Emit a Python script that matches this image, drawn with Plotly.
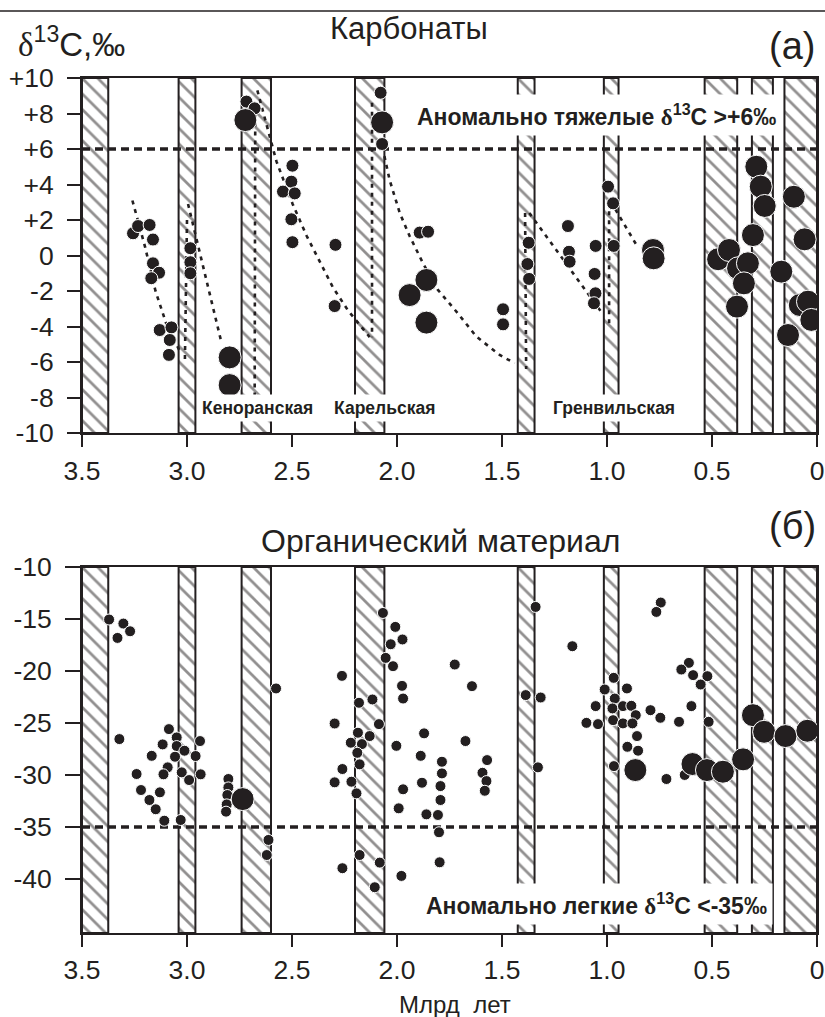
import plotly.graph_objects as go

INK = "#231f20"
FONT = "Liberation Sans"
W, H = 825, 1017

# ---------------- data ----------------
band_start = [3.5, 3.04, 2.74, 2.20, 1.425, 1.015, 0.535, 0.31, 0.155]
band_end = [3.375, 2.96, 2.60, 2.06, 1.345, 0.945, 0.38, 0.21, 0.0]

x_ticks = [3.5, 3.0, 2.5, 2.0, 1.5, 1.0, 0.5, 0.0]
x_ticktext = ["3.5", "3.0", "2.5", "2.0", "1.5", "1.0", "0.5", "0"]
carb_yticks = [10, 8, 6, 4, 2, 0, -2, -4, -6, -8, -10]
carb_yticktext = ["+10", "+8", "+6", "+4", "+2", "0", "-2", "-4", "-6", "-8", "-10"]
org_yticks = [-10, -15, -20, -25, -30, -35, -40]
org_yticktext = ["-10", "-15", "-20", "-25", "-30", "-35", "-40"]

carb_range = [-10, 10]
org_range = [-45.2, -10]
carb_threshold = 6
org_threshold = -35

carb_small_age = [3.257, 3.233, 3.178, 3.162, 3.162, 3.133, 3.17, 3.13, 3.074, 3.082, 3.086,
                  2.984, 2.984, 2.984, 2.717, 2.678,
                  2.498, 2.503, 2.543, 2.487, 2.503, 2.498, 2.293, 2.297,
                  2.078, 2.071, 1.892, 1.852, 1.495, 1.495,
                  1.373, 1.379, 1.371, 1.186, 1.181, 1.178,
                  1.054, 1.059, 1.055, 1.062, 0.995, 0.971, 0.968]
carb_small_d13c = [1.25, 1.66, 1.72, 0.9, -0.44, -0.97, -1.28, -4.2, -4.05, -4.76, -5.6,
                   0.41, -0.38, -1.0, 8.67, 8.29,
                   5.06, 4.16, 3.6, 3.5, 2.04, 0.75, 0.6, -2.85,
                   9.17, 6.28, 1.29, 1.34, -3.03, -3.88,
                   0.72, -0.48, -1.32, 1.66, 0.21, -0.35,
                   0.54, -1.04, -2.13, -2.69, 3.88, 2.94, 0.54]

carb_large_age = [2.797, 2.797, 2.722, 2.071, 1.86, 1.94, 1.86, 0.781, 0.778,
                  0.289, 0.268, 0.249, 0.11, 0.305, 0.059, 0.471, 0.419, 0.376,
                  0.329, 0.348, 0.17, 0.381, 0.082, 0.043, 0.027, 0.138]
carb_large_d13c = [-5.74, -7.3, 7.63, 7.5, -1.38, -2.23, -3.78, 0.31, -0.16,
                   5.0, 3.88, 2.79, 3.31, 1.15, 0.91, -0.21, 0.31, -0.72,
                   -0.44, -1.57, -0.91, -2.88, -2.79, -2.6, -3.63, -4.48]

org_small_age = [3.371, 3.303, 3.271, 3.331, 2.576, 3.322, 3.086, 3.049, 3.049, 3.116,
                 3.168, 3.012, 3.057, 2.959, 2.938, 3.092, 3.112, 3.025, 2.99, 2.935,
                 3.24, 3.219, 3.129, 3.179, 3.149, 3.108, 3.03,
                 2.803, 2.803, 2.808, 2.811, 2.814, 2.612, 2.62,
                 2.067, 2.008, 1.974, 2.03, 2.054, 2.019, 2.262, 1.976, 1.971,
                 1.725, 1.643, 1.34, 2.181, 2.117, 2.297, 2.086, 2.186, 2.13, 2.22,
                 2.167, 2.189, 2.178, 2.26, 2.297, 2.217, 2.193, 2.003, 1.871, 1.887,
                 1.881, 1.971, 1.992, 1.786, 1.786, 1.793, 1.793, 1.86, 1.805, 1.8,
                 1.797, 1.674, 1.571, 1.593, 1.574, 1.582, 1.387, 1.316, 1.329,
                 2.178, 2.082, 2.26, 1.979, 2.106,
                 0.744, 0.765, 1.165, 0.968, 1.011, 0.905, 0.963, 1.054, 0.974, 0.924,
                 0.884, 0.863, 0.793, 0.746, 0.598, 1.098, 1.043, 0.971, 0.924, 0.879,
                 0.657, 0.516, 0.857, 0.903, 0.852, 0.61, 0.646, 0.59, 0.522, 0.554,
                 0.967, 0.717, 0.63]
org_small_d13c = [-15.05, -15.44, -16.18, -16.82, -21.68, -26.55, -25.59, -26.39, -27.22, -27.06,
                  -28.16, -27.67, -28.25, -28.18, -26.74, -29.27, -29.94, -29.75, -30.49, -29.94,
                  -29.91, -31.45, -31.67, -32.41, -33.3, -34.4, -34.33,
                  -30.39, -31.2, -31.93, -32.83, -33.53, -36.25, -37.7,
                  -14.42, -15.76, -16.97, -17.43, -18.74, -19.54, -20.47, -21.43, -22.65,
                  -19.38, -21.46, -13.84, -23.06, -22.74, -25.05, -25.11, -25.94, -26.26, -26.9,
                  -27.03, -27.87, -28.98, -29.43, -30.71, -30.65, -31.77, -27.2, -26.0, -28.16,
                  -30.75, -31.38, -33.21, -28.73, -29.85, -31.07, -32.41, -33.79, -33.85, -35.51,
                  -38.4, -26.74, -28.57, -29.79, -30.59, -31.52, -22.32, -22.55, -29.27,
                  -37.7, -38.43, -38.97, -39.71, -40.8,
                  -13.42, -14.32, -17.62, -20.66, -21.78, -21.68, -22.65, -23.38, -23.6, -23.38,
                  -23.35, -24.25, -23.77, -24.5, -23.38, -24.99, -25.11, -24.73, -25.04, -25.04,
                  -24.89, -24.89, -26.26, -27.29, -27.67, -19.22, -19.86, -20.4, -20.5, -21.3,
                  -29.15, -30.39, -30.0]

org_large_age = [2.735, 0.865, 0.593, 0.524, 0.448, 0.352, 0.305, 0.252, 0.15, 0.046]
org_large_d13c = [-32.32, -29.53, -28.95, -29.53, -29.69, -28.5, -24.25, -25.85, -26.26, -25.75]

# dotted trend segments in the carbonate panel
trend_a_age = [3.26, 3.2, 3.15, 3.1, 3.03]
trend_a_val = [3.1, 0.5, -2.0, -3.8, -5.5]
trend_b_age = [3.0, 3.01]
trend_b_val = [2.0, -5.9]
trend_c_age = [2.995, 2.836]
trend_c_val = [2.9, -4.9]
trend_d_age = [2.675, 2.678]
trend_d_val = [8.0, -9.0]
trend_e_age = [2.665, 2.606, 2.574, 2.497, 2.43, 2.305, 2.233, 2.13]
trend_e_val = [9.3, 6.7, 5.3, 2.9, 1.1, -1.8, -3.1, -4.6]
trend_f_age = [2.119, 2.119]
trend_f_val = [8.6, -4.6]
trend_g_age = [2.06, 2.035, 1.987, 1.94, 1.876, 1.805, 1.71, 1.622, 1.511, 1.44]
trend_g_val = [5.6, 4.25, 2.4, 1.1, -0.44, -1.94, -3.26, -4.57, -5.6, -6.07]
trend_h_age = [1.39, 1.385]
trend_h_val = [2.4, -6.4]
trend_i_age = [1.37, 1.02]
trend_i_val = [2.4, -3.3]
trend_j_age = [0.99, 0.99]
trend_j_val = [2.5, -3.9]
trend_k_age = [0.96, 0.855]
trend_k_val = [2.6, 0.5]
trends = [(trend_a_age, trend_a_val), (trend_b_age, trend_b_val), (trend_c_age, trend_c_val),
          (trend_d_age, trend_d_val), (trend_e_age, trend_e_val), (trend_f_age, trend_f_val),
          (trend_g_age, trend_g_val), (trend_h_age, trend_h_val), (trend_i_age, trend_i_val),
          (trend_j_age, trend_j_val), (trend_k_age, trend_k_val)]

# ---------------- figure ----------------
fig = go.Figure()

centers = [(a + b) / 2 for a, b in zip(band_start, band_end)]
widths = [abs(a - b) for a, b in zip(band_start, band_end)]


def add_bands(xa, ya, yr):
    fig.add_trace(go.Bar(
        x=centers, width=widths, base=[yr[0]] * len(centers),
        y=[yr[1] - yr[0]] * len(centers),
        marker=dict(color="white", line=dict(color=INK, width=2),
                    pattern=dict(shape="\\", fgcolor=INK, bgcolor="white",
                                 size=11, solidity=0.25, fillmode="overlay")),
        xaxis=xa, yaxis=ya, hoverinfo="skip", showlegend=False))


add_bands("x", "y", carb_range)
add_bands("x2", "y2", org_range)

for ages, vals in trends:
    fig.add_trace(go.Scatter(x=ages, y=vals, mode="lines", xaxis="x", yaxis="y",
                             line=dict(color=INK, width=2.6, dash="4px,5px"),
                             hoverinfo="skip", showlegend=False))

fig.add_trace(go.Scatter(x=[x_ticks[0], x_ticks[-1]], y=[carb_threshold] * 2, mode="lines",
                         xaxis="x", yaxis="y", line=dict(color=INK, width=3.4, dash="8px,5px"),
                         showlegend=False))
fig.add_trace(go.Scatter(x=[x_ticks[0], x_ticks[-1]], y=[org_threshold] * 2, mode="lines",
                         xaxis="x2", yaxis="y2", line=dict(color=INK, width=3.4, dash="8px,5px"),
                         showlegend=False))


def add_pts(ages, vals, size, xa, ya):
    fig.add_trace(go.Scatter(x=ages, y=vals, mode="markers", xaxis=xa, yaxis=ya,
                             marker=dict(color=INK, size=size, line=dict(color="white", width=1)),
                             showlegend=False))


add_pts(carb_small_age, carb_small_d13c, 13, "x", "y")
add_pts(carb_large_age, carb_large_d13c, 23, "x", "y")
add_pts(org_small_age, org_small_d13c, 11, "x2", "y2")
add_pts(org_large_age, org_large_d13c, 23, "x2", "y2")

xdom = [82 / W, 817 / W]
axis_common = dict(showgrid=False, zeroline=False, showline=True, linecolor=INK, linewidth=2,
                   mirror=True, ticks="outside", tickcolor=INK, tickwidth=2, automargin=False,
                   tickfont=dict(family=FONT, size=26.5, color=INK))

fig.update_layout(
    template="none",
    width=W, height=H, margin=dict(l=0, r=0, t=0, b=0, pad=0), autosize=False,
    paper_bgcolor="white", plot_bgcolor="white", barmode="overlay", showlegend=False,
    xaxis=dict(domain=xdom, range=[3.5, 0], anchor="y", tickvals=x_ticks, ticktext=x_ticktext,
               ticklen=12, ticklabelstandoff=1, **axis_common),
    yaxis=dict(domain=[1 - 433 / H, 1 - 78 / H], range=carb_range, anchor="x",
               tickvals=carb_yticks, ticktext=carb_yticktext, ticklen=13, ticklabelstandoff=8,
               **axis_common),
    xaxis2=dict(domain=xdom, range=[3.5, 0], anchor="y2", tickvals=x_ticks, ticktext=x_ticktext,
                ticklen=12, ticklabelstandoff=0, **axis_common),
    yaxis2=dict(domain=[1 - 933 / H, 1 - 567 / H], range=org_range, anchor="x2",
                tickvals=org_yticks, ticktext=org_yticktext, ticklen=15, ticklabelstandoff=8,
                **axis_common),
)

DELTA = "<span style='font-family:Liberation Serif'>δ</span>"


def ann(text, px, py, size, bold=False, bg=None, pad=1, xanchor="center"):
    fig.add_annotation(text=("<b>%s</b>" % text) if bold else text,
                       x=px / W, y=1 - py / H, xref="paper", yref="paper",
                       xanchor=xanchor, yanchor="middle", showarrow=False,
                       font=dict(family=FONT, size=size, color=INK),
                       bgcolor=bg, borderpad=pad)


ann("Карбонаты", 409, 28, 31)
ann("(а)", 792, 46, 38)
ann(DELTA + "<sup>13</sup>C,‰", 71, 42, 33)
ann("Органический материал", 440, 541, 32)
ann("(б)", 792, 526, 38)
ann("Аномально тяжелые " + DELTA + "<sup>13</sup>C &gt;+6‰", 596, 115, 23, bold=True,
    bg="white", pad=5)
ann("Аномально легкие " + DELTA + "<sup>13</sup>C &lt;-35‰", 596, 904, 23, bold=True,
    bg="white", pad=5)
ann("Кеноранская", 257, 408, 17.5, bold=True, bg="white", pad=3)
ann("Карельская", 384, 408, 17.5, bold=True, bg="white", pad=3)
ann("Гренвильская", 614, 408, 17.5, bold=True, bg="white", pad=3)
ann("Млрд  лет", 455, 1004, 24)

fig.add_shape(type="line", xref="paper", yref="paper", x0=0, x1=1, y0=1 - 11 / H, y1=1 - 11 / H,
              line=dict(color=INK, width=1.5))

fig.write_html("out.html", config={"displayModeBar": False},
               post_script="document.body.style.margin='0px';"
                           "document.body.style.overflow='hidden';")
